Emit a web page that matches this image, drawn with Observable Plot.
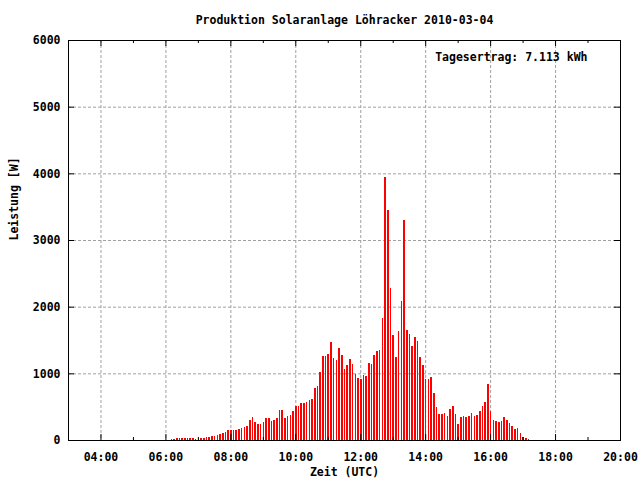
<!DOCTYPE html>
<html><head><meta charset="utf-8">
<script src="https://cdn.jsdelivr.net/npm/d3@7"></script>
<script src="https://cdn.jsdelivr.net/npm/@observablehq/plot@0.6"></script>
<style>body{margin:0;background:#fff}</style>
</head><body><div id="chart"></div>
<script>
const titleText = "Produktion Solaranlage Löhracker 2010-03-04";
const annotation = "Tagesertrag: 7.113 kWh";
const xLabel = "Zeit (UTC)";
const yLabel = "Leistung [W]";

const times = [
  "06:10","06:15","06:20","06:25","06:30","06:35","06:40","06:45","06:50","06:55",
  "07:00","07:05","07:10","07:15","07:20","07:25","07:30","07:35","07:40","07:45","07:50","07:55",
  "08:00","08:05","08:10","08:15","08:20","08:25","08:30","08:35","08:40","08:45","08:50","08:55",
  "09:00","09:05","09:10","09:15","09:20","09:25","09:30","09:35","09:40","09:45","09:50","09:55",
  "10:00","10:05","10:10","10:15","10:20","10:25","10:30","10:35","10:40","10:45","10:50","10:55",
  "11:00","11:05","11:10","11:15","11:20","11:25","11:30","11:35","11:40","11:45","11:50","11:55",
  "12:00","12:05","12:10","12:15","12:20","12:25","12:30","12:35","12:40","12:45","12:50","12:55",
  "13:00","13:05","13:10","13:15","13:20","13:25","13:30","13:35","13:40","13:45","13:50","13:55",
  "14:00","14:05","14:10","14:15","14:20","14:25","14:30","14:35","14:40","14:45","14:50","14:55",
  "15:00","15:05","15:10","15:15","15:20","15:25","15:30","15:35","15:40","15:45","15:50","15:55",
  "16:00","16:05","16:10","16:15","16:20","16:25","16:30","16:35","16:40","16:45","16:50","16:55",
  "17:00","17:05","17:10"
];
const power = [
  15,15,30,30,30,30,30,30,30,15,
  20,30,30,45,45,60,60,75,90,105,120,150,
  150,150,150,165,180,195,210,300,345,270,240,240,
  270,330,330,285,300,330,450,450,330,360,375,435,
  510,510,555,555,570,600,615,780,810,1020,1260,1260,
  1290,1470,1230,1200,1380,1275,1065,1125,1215,1140,990,930,
  910,975,960,1155,1140,1275,1335,1350,1830,3945,3450,2280,
  1575,1245,1635,2085,3300,1650,1590,1410,1545,1485,1245,1125,
  915,910,945,705,495,390,390,405,360,465,510,390,
  240,345,360,345,360,405,360,375,435,510,570,840,
  435,300,285,270,285,345,300,255,210,165,180,105,
  45,30,15
];
const xDomainLabels = ["03:00","20:00"];
const xTickLabels = ["04:00","06:00","08:00","10:00","12:00","14:00","16:00","18:00","20:00"];
const xMinorTickLabels = ["05:00","07:00","09:00","11:00","13:00","15:00","17:00","19:00"];
const yTicks = [0,1000,2000,3000,4000,5000,6000];

const toHours = s => { const [h, m] = s.split(":").map(Number); return h + m / 60; };
const data = times.map((t, i) => ({h: toHours(t), w: power[i]}));
const xMajor = xTickLabels.map(toHours);
const xMinor = xMinorTickLabels.map(toHours);
const fmtX = d => xTickLabels[xMajor.indexOf(d)];

const W = 640, H = 480, mL = 68, mR = 20, mT = 40, mB = 40;
const fw = W - mL - mR, fh = H - mT - mB;
const gridStyle = {stroke: "#a0a0a0", strokeOpacity: 1, strokeDasharray: "3,2"};

const chart = Plot.plot({
  width: W, height: H,
  marginLeft: mL, marginRight: mR, marginTop: mT, marginBottom: mB,
  style: {fontFamily: "'DejaVu Sans Mono', monospace", fontSize: "11.5px", fontWeight: "bold", background: "#fff", color: "#000", overflow: "visible"},
  x: {domain: xDomainLabels.map(toHours)},
  y: {domain: [yTicks[0], yTicks[yTicks.length - 1]]},
  marks: [
    Plot.gridX(xMajor, gridStyle),
    Plot.gridY(yTicks, gridStyle),
    Plot.ruleX(data, {x: "h", y: "w", stroke: "#ff0000", strokeWidth: 1.6, shapeRendering: "crispEdges"}),
    Plot.tickX(xMajor, {x: d => d, insetTop: fh - 6, stroke: "#000"}),
    Plot.tickX(xMajor, {x: d => d, insetBottom: fh - 6, stroke: "#000"}),
    Plot.tickX(xMinor, {x: d => d, insetTop: fh - 3, stroke: "#000"}),
    Plot.tickX(xMinor, {x: d => d, insetBottom: fh - 3, stroke: "#000"}),
    Plot.tickY(yTicks, {y: d => d, insetRight: fw - 6, stroke: "#000"}),
    Plot.tickY(yTicks, {y: d => d, insetLeft: fw - 6, stroke: "#000"}),
    Plot.frame({stroke: "#000"}),
    Plot.axisX(xMajor, {tickSize: 0, tickPadding: 12, tickFormat: fmtX, label: null}),
    Plot.axisY(yTicks, {tickSize: 0, tickPadding: 8, tickFormat: d3.format("d"), label: null}),
    Plot.text([titleText], {frameAnchor: "top", dy: -25}),
    Plot.text([annotation], {frameAnchor: "top-right", dx: -33, dy: 12, textAnchor: "end"}),
    Plot.text([xLabel], {frameAnchor: "bottom", dy: 35}),
    Plot.text([yLabel], {frameAnchor: "left", dx: -54, rotate: -90})
  ]
});
document.getElementById("chart").appendChild(chart);
</script>
</body></html>
